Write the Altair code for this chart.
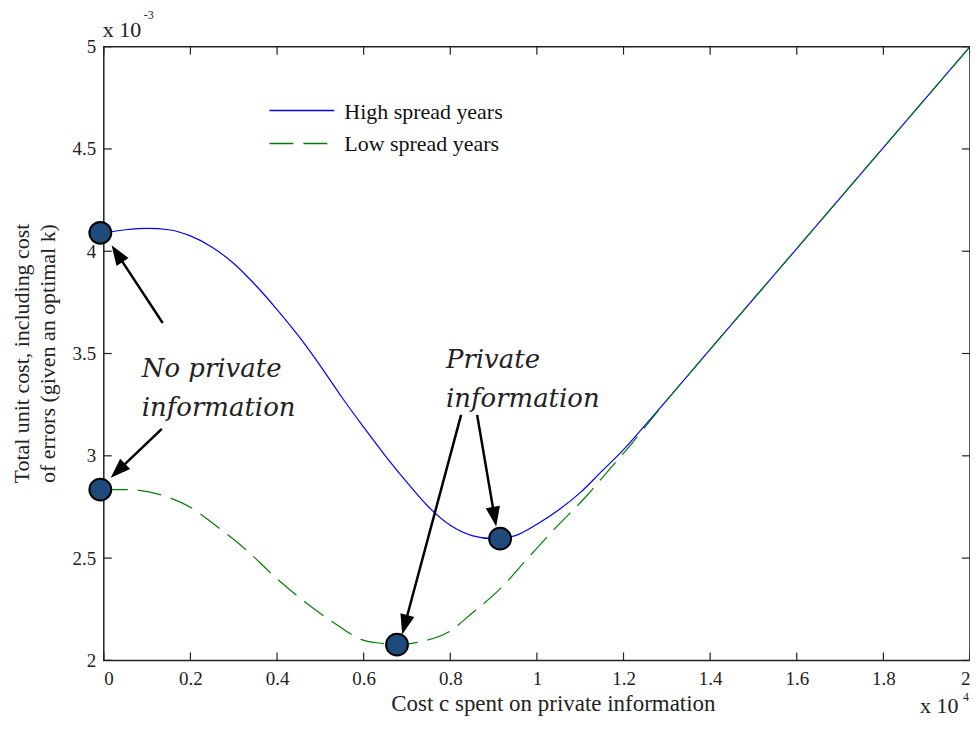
import math
import altair as alt
import pandas as pd

# ---------------- data (x in units of 1e4, y in units of 1e-3) ----------------
high_x = [0.0, 0.05, 0.10, 0.15, 0.20, 0.25, 0.30, 0.35, 0.40, 0.45, 0.50, 0.55, 0.60,
          0.65, 0.70, 0.75, 0.80, 0.85, 0.90, 0.95, 1.00, 1.05, 1.10, 1.15, 1.20, 1.25,
          1.40, 1.60, 1.80, 2.00]
high_y = [4.09, 4.105, 4.112, 4.105, 4.075, 4.02, 3.94, 3.835, 3.715, 3.585, 3.44, 3.285,
          3.14, 3.0, 2.87, 2.75, 2.66, 2.61, 2.595, 2.61, 2.665, 2.735, 2.82, 2.925, 3.03,
          3.15, 3.52, 4.013, 4.507, 5.00]

low_x = [0.0, 0.05, 0.13, 0.202, 0.256, 0.329, 0.394, 0.463, 0.537, 0.597, 0.643, 0.677,
         0.735, 0.797, 0.85, 0.92, 0.975, 1.044, 1.113, 1.166, 1.219, 1.28, 1.40, 1.60,
         1.80, 2.00]
low_y = [2.835, 2.835, 2.81, 2.746, 2.663, 2.54, 2.41, 2.288, 2.176, 2.10, 2.083, 2.077,
         2.093, 2.14, 2.23, 2.36, 2.49, 2.65, 2.80, 2.93, 3.06, 3.22, 3.52, 4.013,
         4.507, 5.00]

series_names = ["High spread years", "Low spread years"]
series_colors = ["#0000ff", "#008000"]

marker_x = [-0.008, -0.008, 0.915, 0.677]
marker_y = [4.09, 2.835, 2.595, 2.077]

x_ticks = [0, 0.2, 0.4, 0.6, 0.8, 1, 1.2, 1.4, 1.6, 1.8, 2]
y_ticks = [2, 2.5, 3, 3.5, 4, 4.5, 5]

arrow_tail_x = [0.136, 0.134, 0.825, 0.862]
arrow_tail_y = [3.649, 3.132, 3.20, 3.20]
arrow_tip_x = [0.018, 0.016, 0.689, 0.906]
arrow_tip_y = [4.029, 2.893, 2.127, 2.654]

note_text = ["No private\ninformation", "Private\ninformation"]
note_x = [0.0876, 0.790]
note_y = [3.385, 3.429]

x_title = "Cost c spent on private information"
y_title = ["Total unit cost, including cost", "of errors (given an optimal k)"]
scale_base = ["x 10", "x 10"]
scale_exp = ["-3", "4"]

# ---------------- layout ----------------
W, H = 868, 615
XD = [0, 2]
YD = [2, 5]
SERIF = "Liberation Serif"

xs = alt.Scale(domain=XD, nice=False, zero=False)
ys = alt.Scale(domain=YD, nice=False, zero=False)


def to_px(x, y):
    return (x - XD[0]) / (XD[1] - XD[0]) * W, (YD[1] - y) / (YD[1] - YD[0]) * H


def to_data(px, py):
    return XD[0] + px / W * (XD[1] - XD[0]), YD[1] - py / H * (YD[1] - YD[0])


HEAD = 20
rows = []
for tx, ty, hx, hy in zip(arrow_tail_x, arrow_tail_y, arrow_tip_x, arrow_tip_y):
    p0 = to_px(tx, ty)
    p1 = to_px(hx, hy)
    dx, dy = p1[0] - p0[0], p1[1] - p0[1]
    L = math.hypot(dx, dy)
    ux, uy = dx / L, dy / L
    ex, ey = to_data(p1[0] - ux * (HEAD - 4), p1[1] - uy * (HEAD - 4))
    ang = math.degrees(math.atan2(dx, -dy)) % 360
    rows.append(dict(x0=tx, y0=ty, x1=ex, y1=ey, hx=hx, hy=hy, ang=ang))
arrows = pd.DataFrame(rows)

lines_df = pd.concat([
    pd.DataFrame({"x": high_x, "y": high_y, "series": series_names[0]}),
    pd.DataFrame({"x": low_x, "y": low_y, "series": series_names[1]}),
])

x_axis = alt.Axis(values=x_ticks, format="~g", grid=False, ticks=False, domain=False,
                  labelFont=SERIF, labelFontSize=19, labelColor="#222", labelPadding=9,
                  title=x_title, titleFont=SERIF, titleFontSize=23, titleFontWeight="normal",
                  titleColor="#222", titleX=450, titleY=50, titleBaseline="alphabetic")
y_axis = alt.Axis(values=y_ticks, format="~g", grid=False, ticks=False, domain=False,
                  labelFont=SERIF, labelFontSize=19, labelColor="#222", labelPadding=8,
                  title=y_title, titleFont=SERIF, titleFontSize=22, titleFontWeight="normal",
                  titleColor="#222", titleX=-92, titleY=307, titleBaseline="top",
                  titleAngle=-90, titleLineHeight=26)


def X(f):
    return alt.X(f, scale=xs, axis=x_axis)


def Y(f):
    return alt.Y(f, scale=ys, axis=y_axis)


layers = []
for i, name in enumerate(series_names):
    d = lines_df[lines_df.series == name]
    mk = dict(color=series_colors[i], strokeWidth=1.2, interpolate="monotone")
    if i == 1:
        mk["strokeDash"] = [24, 10]
    layers.append(alt.Chart(d).mark_line(**mk).encode(x=X("x:Q"), y=Y("y:Q")))

# inward ticks on all four sides
xt = pd.DataFrame({"t": x_ticks})
yt = pd.DataFrame({"t": y_ticks})
tick_style = dict(color="#222", strokeWidth=1.2)
layers.append(alt.Chart(xt).mark_rule(**tick_style).encode(
    x=X("t:Q"), y=alt.value(H), y2=alt.value(H - 8)))
layers.append(alt.Chart(xt).mark_rule(**tick_style).encode(
    x=X("t:Q"), y=alt.value(0), y2=alt.value(8)))
layers.append(alt.Chart(yt).mark_rule(**tick_style).encode(
    y=Y("t:Q"), x=alt.value(0), x2=alt.value(8)))
layers.append(alt.Chart(yt).mark_rule(**tick_style).encode(
    y=Y("t:Q"), x=alt.value(W - 8), x2=alt.value(W)))

# legend (drawn manually, MATLAB style)
for i, name in enumerate(series_names):
    ld = pd.DataFrame({"series": [name]})
    rk = dict(color=series_colors[i], strokeWidth=1.5)
    if i == 1:
        rk["strokeDash"] = [24, 10]
    layers.append(alt.Chart(ld).mark_rule(**rk).encode(
        x=alt.value(166), x2=alt.value(231), y=alt.value(64 + 33 * i)))
    layers.append(alt.Chart(ld).mark_text(font=SERIF, fontSize=22, color="#111",
                                          align="left", baseline="middle").encode(
        x=alt.value(241), y=alt.value(65 + 33 * i), text="series:N"))

# arrows
layers.append(alt.Chart(arrows).mark_rule(color="black", strokeWidth=2.5).encode(
    x=X("x0:Q"), y=Y("y0:Q"), x2="x1:Q", y2="y1:Q"))
layers.append(alt.Chart(arrows).mark_point(
    shape="M0,0 L-0.36,1 L0.36,1 Z", size=(2 * HEAD) ** 2, filled=True,
    color="black", opacity=1).encode(
    x=X("hx:Q"), y=Y("hy:Q"), angle=alt.Angle("ang:Q", scale=None)))

# markers
mdf = pd.DataFrame({"x": marker_x, "y": marker_y})
layers.append(alt.Chart(mdf).mark_point(
    shape="circle", size=480, filled=True, fill="#1f4a7c", stroke="black",
    strokeWidth=2, opacity=1).encode(x=X("x:Q"), y=Y("y:Q")))

# annotation texts
ndf = pd.DataFrame({"x": note_x, "y": note_y, "t": note_text})
layers.append(alt.Chart(ndf).mark_text(
    font="DejaVu Serif", fontStyle="italic", fontSize=26, color="#222",
    align="left", baseline="alphabetic", lineBreak="\n", lineHeight=39).encode(
    x=X("x:Q"), y=Y("y:Q"), text="t:N"))

# scale multipliers
sd = pd.DataFrame({"b": scale_base, "e": scale_exp})
txt = dict(font=SERIF, color="#222", align="left", baseline="alphabetic")
layers.append(alt.Chart(sd.iloc[[0]]).mark_text(fontSize=22, **txt).encode(
    x=alt.value(-1), y=alt.value(-10), text="b:N"))
layers.append(alt.Chart(sd.iloc[[0]]).mark_text(fontSize=12, **txt).encode(
    x=alt.value(40), y=alt.value(-28), text="e:N"))
layers.append(alt.Chart(sd.iloc[[1]]).mark_text(fontSize=22, **txt).encode(
    x=alt.value(818), y=alt.value(668), text="b:N"))
layers.append(alt.Chart(sd.iloc[[1]]).mark_text(fontSize=12, **txt).encode(
    x=alt.value(861), y=alt.value(656), text="e:N"))

chart = alt.layer(*layers).properties(
    width=W, height=H,
    autosize=alt.AutoSizeParams(type="none"),
    padding={"left": 96, "top": 38, "right": 0, "bottom": 59},
).configure_view(stroke="#222", strokeWidth=1.5)

chart.save("out.html", embed_options={"renderer": "svg", "actions": False})
